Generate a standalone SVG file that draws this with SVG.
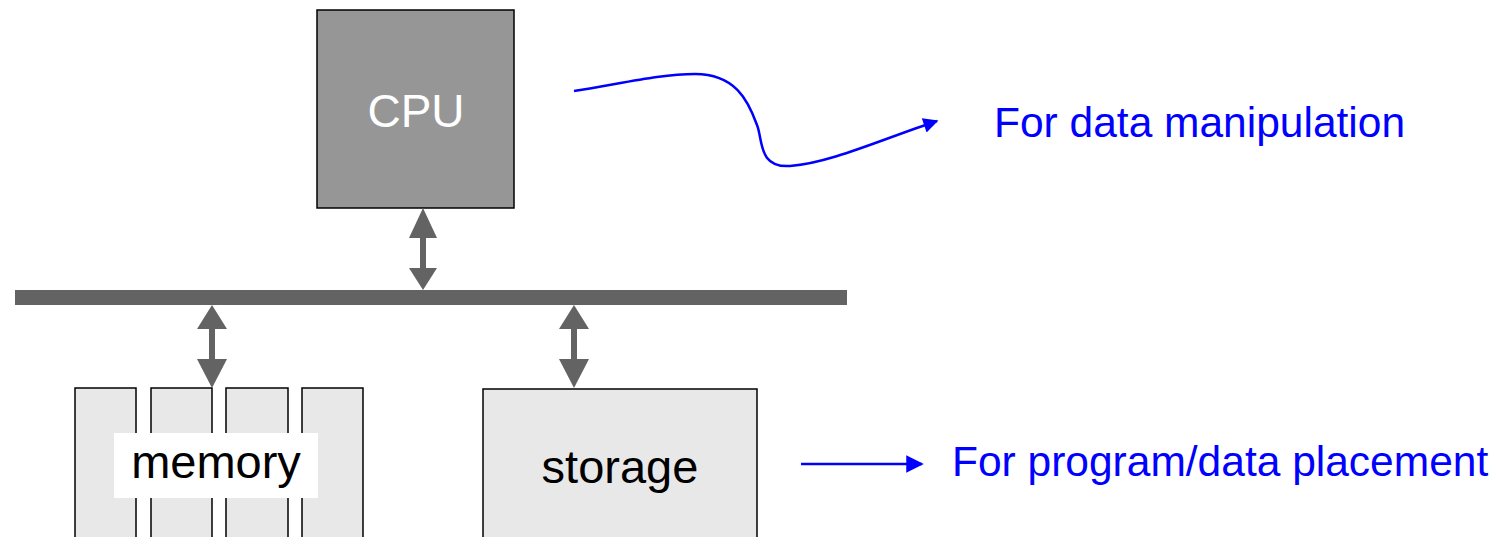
<svg xmlns="http://www.w3.org/2000/svg" width="1503" height="537" viewBox="0 0 1503 537">
<defs>
<style>
.box{stroke:#000;stroke-width:1.5}
.lbl{font-family:"Liberation Sans",Arial,sans-serif;text-anchor:middle}
.blue{font-family:"Liberation Sans",Arial,sans-serif;fill:#0000ff;font-size:42.5px}
.link{stroke:#636363;stroke-width:6;fill:none}
.head{fill:#636363}
.bl{stroke:#0000ff;stroke-width:2.5;fill:none}
</style>
<marker id="ab" viewBox="0 0 10 10" refX="9" refY="5" markerWidth="8" markerHeight="6" markerUnits="strokeWidth" orient="auto">
<path d="M0,0 L10,5 L0,10 z" fill="#0000ff"/>
</marker>
<marker id="ab2" viewBox="0 0 10 10" refX="9" refY="5" markerWidth="7" markerHeight="7" markerUnits="strokeWidth" orient="auto">
<path d="M0,0 L10,5 L0,10 z" fill="#0000ff"/>
</marker>
</defs>
<rect width="1503" height="537" fill="#fff"/>

<g id="bus"><rect x="15" y="290" width="832" height="15" fill="#636363"/></g>

<g id="cpu">
<rect class="box" x="317" y="10" width="197" height="198" fill="#969696"/>
<text class="lbl" x="416" y="127" font-size="46" fill="#fff">CPU</text>
</g>

<g id="memory">
<rect class="box" x="75" y="388" width="61" height="160" fill="#e8e8e8"/>
<rect class="box" x="151" y="388" width="61" height="160" fill="#e8e8e8"/>
<rect class="box" x="226" y="388" width="62" height="160" fill="#e8e8e8"/>
<rect class="box" x="302" y="388" width="61" height="160" fill="#e8e8e8"/>
<rect x="114" y="433" width="204" height="65" fill="#fff"/>
<text class="lbl" x="216" y="478" font-size="47" fill="#000">memory</text>
</g>

<g id="storage">
<rect class="box" x="483" y="389" width="274" height="160" fill="#e8e8e8"/>
<text class="lbl" x="620" y="483" font-size="47" fill="#000">storage</text>
</g>

<g id="label-data"><text class="blue" x="994" y="137">For data manipulation</text></g>
<g id="label-program"><text class="blue" x="952" y="476">For program/data placement</text></g>

<g id="connectors">
<line class="link" x1="423" y1="232" x2="423" y2="274"/>
<path class="head" d="M423,208 L409,238 L437,238 z"/>
<path class="head" d="M423,290 L409,268 L437,268 z"/>
<line class="link" x1="212" y1="322" x2="212" y2="364"/>
<path class="head" d="M212,305 L197,329 L227,329 z"/>
<path class="head" d="M212,388 L197,359 L227,359 z"/>
<line class="link" x1="574" y1="322" x2="574" y2="364"/>
<path class="head" d="M574,305 L559,329 L589,329 z"/>
<path class="head" d="M574,388 L559,359 L589,359 z"/>
<path class="bl" marker-end="url(#ab)" d="M574,91 C620,84 660,74 695,74 C735,74 748,100 757,125 C763,140 758,168 790,166 C830,163 880,140 937,121"/>
<line class="bl" x1="801" y1="464" x2="922" y2="464" stroke-width="2" marker-end="url(#ab2)"/>
</g>
</svg>
